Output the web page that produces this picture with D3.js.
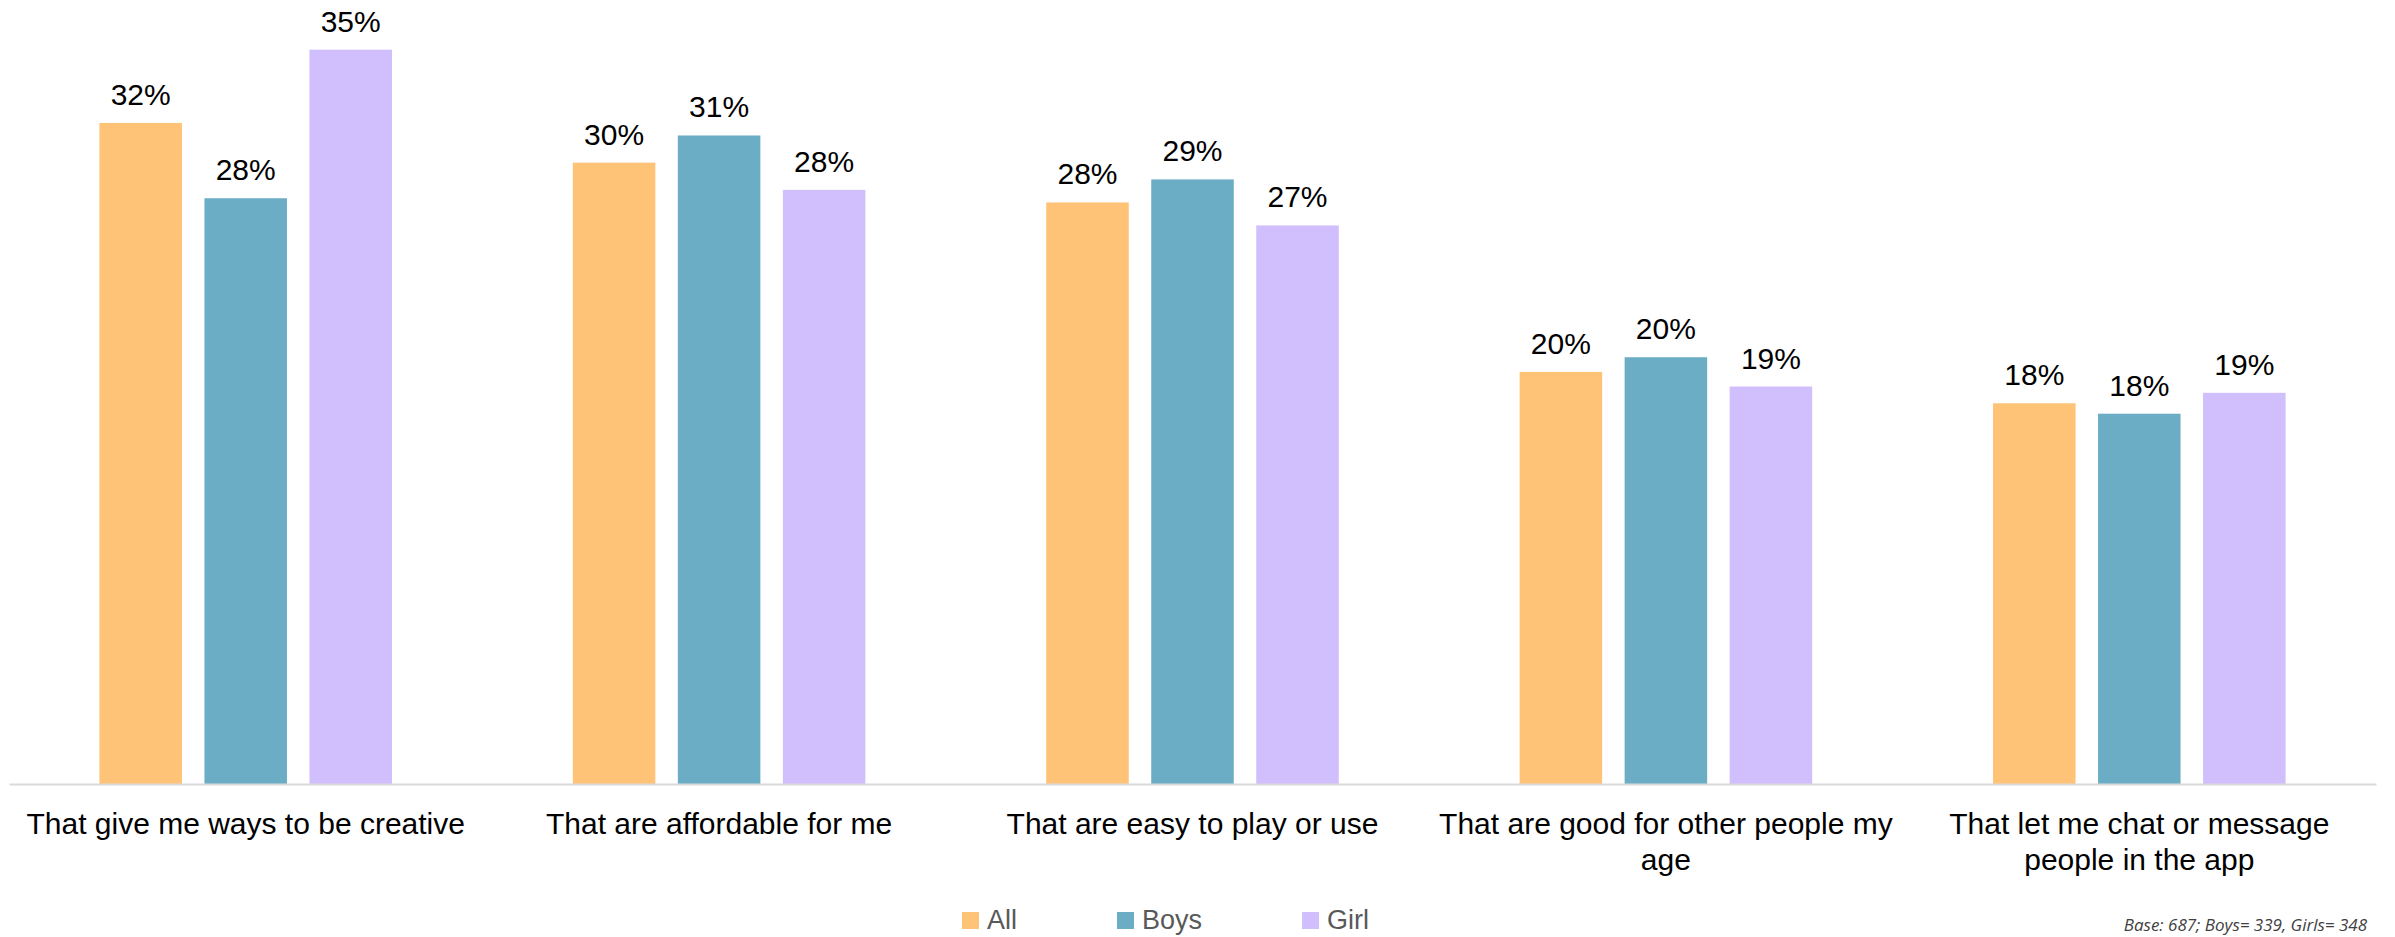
<!DOCTYPE html>
<html>
<head>
<meta charset="utf-8">
<script src="https://cdn.jsdelivr.net/npm/d3@7"></script>
<style>
  html, body { margin: 0; padding: 0; background: #ffffff; }
  svg { display: block; }
</style>
</head>
<body>
<svg id="chart" width="2395" height="937"></svg>
<script>
// What respondents look for in apps, by group
const categories = [
  "That give me ways to be creative",
  "That are affordable for me",
  "That are easy to play or use",
  "That are good for other people my age",
  "That let me chat or message people in the app"
];
const seriesNames = ["All", "Boys", "Girl"];
const allValues  = [0.316, 0.297, 0.278, 0.197, 0.182];
const boysValues = [0.280, 0.310, 0.289, 0.204, 0.177];
const girlValues = [0.351, 0.284, 0.267, 0.190, 0.187];
const seriesColors = ["#FFC378", "#6CADC6", "#D0BFFC"];
const baseNote = "Base: 687; Boys= 339, Girls= 348";

const seriesValues = [allValues, boysValues, girlValues];
const rows = categories.map((c, i) => ({
  category: c,
  values: seriesNames.map((s, j) => ({ series: s, value: seriesValues[j][i] }))
}));

const svg = d3.select("#chart");
const baseY = 784;
const pxPerUnit = 2092; // pixels for a value of 1.0 (100%)

const x0 = d3.scaleBand()
  .domain(categories)
  .range([9, 2376])
  .paddingInner(0)
  .paddingOuter(0);

const x1 = d3.scaleBand()
  .domain(seriesNames)
  .range([0, x0.bandwidth()])
  .paddingInner(0.214)
  .paddingOuter(0.861);

const y = d3.scaleLinear()
  .domain([0, 0.35])
  .range([baseY, baseY - 0.35 * pxPerUnit]);

const color = d3.scaleOrdinal().domain(seriesNames).range(seriesColors);
const pct = d3.format(".0%");

// Bars and value labels
const groups = svg.append("g")
  .selectAll("g")
  .data(rows)
  .join("g")
  .attr("transform", d => `translate(${x0(d.category)},0)`);

groups.selectAll("rect")
  .data(d => d.values)
  .join("rect")
  .attr("x", d => x1(d.series))
  .attr("y", d => y(d.value))
  .attr("width", x1.bandwidth())
  .attr("height", d => y(0) - y(d.value))
  .attr("fill", d => color(d.series));

groups.selectAll("text.value")
  .data(d => d.values)
  .join("text")
  .attr("class", "value")
  .attr("x", d => x1(d.series) + x1.bandwidth() / 2)
  .attr("y", d => y(d.value) - 18)
  .attr("text-anchor", "middle")
  .attr("font-family", "'Liberation Sans', Arial, sans-serif")
  .attr("font-size", 30)
  .attr("fill", "#000000")
  .text(d => pct(d.value));

// Category axis along the baseline
const axis = svg.append("g")
  .attr("transform", `translate(0,${baseY})`)
  .call(d3.axisBottom(x0).tickSize(0).tickSizeOuter(0).tickPadding(0));

axis.select(".domain")
  .attr("stroke", "#D9D9D9")
  .attr("stroke-width", 2);

axis.selectAll(".tick text")
  .attr("font-family", "'Liberation Sans', Arial, sans-serif")
  .attr("font-size", 30)
  .attr("fill", "#000000")
  .call(wrap, 466);

function wrap(texts, width) {
  texts.each(function () {
    const text = d3.select(this);
    const words = text.text().split(/\s+/);
    text.text(null).attr("y", 0).attr("dy", null);
    let line = [];
    let lineNo = 0;
    let tspan = text.append("tspan").attr("x", 0).attr("y", 50);
    for (const w of words) {
      line.push(w);
      tspan.text(line.join(" "));
      if (tspan.node().getComputedTextLength() > width && line.length > 1) {
        line.pop();
        tspan.text(line.join(" "));
        line = [w];
        lineNo += 1;
        tspan = text.append("tspan").attr("x", 0).attr("y", 50 + lineNo * 36).text(w);
      }
    }
  });
}

// Legend
const legend = svg.append("g").attr("transform", "translate(962,0)");
let lx = 0;
seriesNames.forEach(name => {
  const item = legend.append("g").attr("transform", `translate(${lx},0)`);
  item.append("rect")
    .attr("x", 0).attr("y", 912)
    .attr("width", 17).attr("height", 17)
    .attr("fill", color(name));
  const t = item.append("text")
    .attr("x", 25).attr("y", 929)
    .attr("font-family", "'Liberation Sans', Arial, sans-serif")
    .attr("font-size", 27)
    .attr("fill", "#595959")
    .text(name);
  lx += 25 + t.node().getComputedTextLength() + 100;
});

// Sample size note
svg.append("text")
  .attr("x", 2367)
  .attr("y", 931)
  .attr("text-anchor", "end")
  .attr("font-family", "'Open Sans', sans-serif")
  .attr("font-style", "italic")
  .attr("font-size", 17)
  .attr("fill", "#404040")
  .text(baseNote);
</script>
</body>
</html>
